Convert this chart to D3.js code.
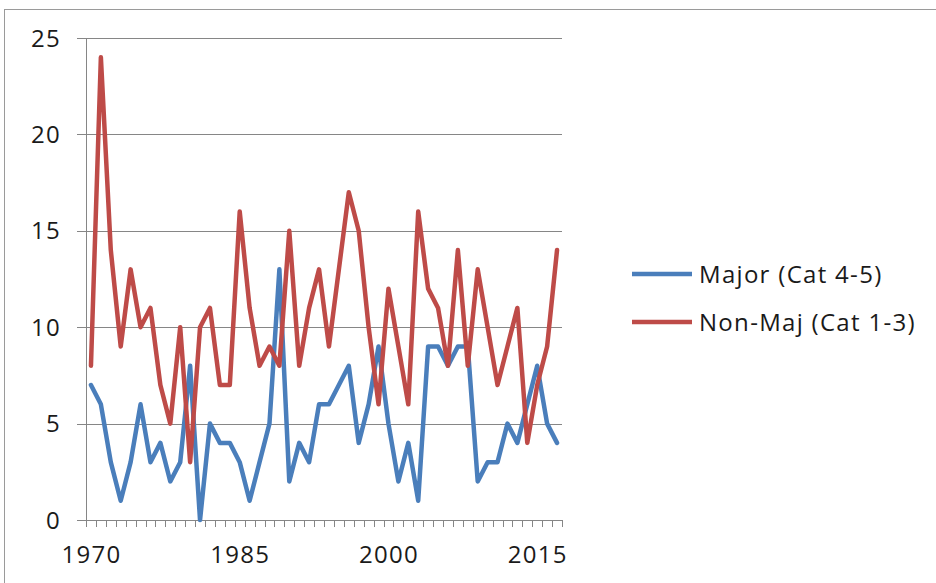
<!DOCTYPE html>
<html>
<head>
<meta charset="utf-8">
<script src="https://cdn.jsdelivr.net/npm/d3@7"></script>
<style>
  html, body { margin: 0; padding: 0; background: #ffffff; }
  svg { display: block; font-family: "Open Sans", "Noto Sans", sans-serif; }
</style>
</head>
<body>
<svg id="chart" width="936" height="583"></svg>
<script>
// Hurricane counts per year
const years = [
  1970, 1971, 1972, 1973, 1974, 1975, 1976, 1977, 1978, 1979,
  1980, 1981, 1982, 1983, 1984, 1985, 1986, 1987, 1988, 1989,
  1990, 1991, 1992, 1993, 1994, 1995, 1996, 1997, 1998, 1999,
  2000, 2001, 2002, 2003, 2004, 2005, 2006, 2007, 2008, 2009,
  2010, 2011, 2012, 2013, 2014, 2015, 2016, 2017
];
const major = [
  7, 6, 3, 1, 3, 6, 3, 4, 2, 3,
  8, 0, 5, 4, 4, 3, 1, 3, 5, 13,
  2, 4, 3, 6, 6, 7, 8, 4, 6, 9,
  5, 2, 4, 1, 9, 9, 8, 9, 9, 2,
  3, 3, 5, 4, 6, 8, 5, 4
];
const nonMajor = [
  8, 24, 14, 9, 13, 10, 11, 7, 5, 10,
  3, 10, 11, 7, 7, 16, 11, 8, 9, 8,
  15, 8, 11, 13, 9, 13, 17, 15, 10, 6,
  12, 9, 6, 16, 12, 11, 8, 14, 8, 13,
  10, 7, 9, 11, 4, 7, 9, 14
];
const yTicks = [0, 5, 10, 15, 20, 25];
const xLabelYears = [1970, 1985, 2000, 2015];

const seriesNames = ["Major (Cat 4-5)", "Non-Maj (Cat 1-3)"];
const seriesColors = ["#4a7ebb", "#be4b48"];

const svg = d3.select("#chart");
const gridColor = "#868686";
const textColor = "#1a1a1a";
const fontSize = "24px";
const letterSpacing = "1.3px";

// outer chart frame
svg.append("rect")
  .attr("x", 4.5).attr("y", 9.5)
  .attr("width", 1000).attr("height", 1000)
  .attr("fill", "none")
  .attr("stroke", "#9a9a9a")
  .attr("stroke-width", 1);

const plot = { left: 86, right: 562, top: 38, bottom: 520 };

const x = d3.scaleBand()
  .domain(years)
  .range([plot.left, plot.right])
  .paddingInner(0).paddingOuter(0);

const y = d3.scaleLinear()
  .domain([0, 25])
  .range([plot.bottom, plot.top]);

const cx = d => x(d) + x.bandwidth() / 2;

// horizontal gridlines with outside ticks
const yAxis = d3.axisLeft(y)
  .tickValues(yTicks)
  .tickSize(-(plot.right - plot.left))
  .tickSizeOuter(0)
  .tickPadding(0)
  .tickFormat(d3.format("d"));

const gy = svg.append("g")
  .attr("transform", `translate(${plot.left},0)`)
  .call(yAxis);
gy.select(".domain").remove();
gy.selectAll(".tick line")
  .attr("x1", -9)
  .attr("stroke", gridColor)
  .attr("stroke-width", 1)
  .attr("shape-rendering", "crispEdges");
gy.selectAll(".tick text")
  .attr("x", -25)
  .attr("dy", "0.34em")
  .attr("fill", textColor)
  .style("font-size", fontSize)
  .style("letter-spacing", letterSpacing)
  .style("font-family", "'Open Sans', 'Noto Sans', sans-serif");

// vertical axis line
svg.append("line")
  .attr("x1", plot.left).attr("x2", plot.left)
  .attr("y1", plot.top).attr("y2", plot.bottom)
  .attr("stroke", gridColor)
  .attr("shape-rendering", "crispEdges");

// category axis: tick marks between years, labels every 15 years
const tickEdges = years.map(d => x(d)).concat([plot.right]);
const gx = svg.append("g");
gx.append("line")
  .attr("x1", plot.left).attr("x2", plot.right)
  .attr("y1", plot.bottom).attr("y2", plot.bottom)
  .attr("stroke", gridColor)
  .attr("shape-rendering", "crispEdges");
gx.selectAll("line.tk")
  .data(tickEdges)
  .join("line")
  .attr("class", "tk")
  .attr("x1", d => Math.round(d) + 0.5).attr("x2", d => Math.round(d) + 0.5)
  .attr("y1", plot.bottom).attr("y2", plot.bottom + 7)
  .attr("stroke", gridColor);
gx.selectAll("text")
  .data(xLabelYears)
  .join("text")
  .attr("x", d => cx(d) + 0.6)
  .attr("y", 563)
  .attr("text-anchor", "middle")
  .attr("fill", textColor)
  .style("font-size", fontSize)
  .style("letter-spacing", letterSpacing)
  .text(d => d);

// series lines
const seriesData = [major, nonMajor];
const line = d3.line()
  .x((d, i) => cx(years[i]))
  .y(d => y(d));

svg.append("g")
  .selectAll("path")
  .data(seriesData)
  .join("path")
  .attr("d", d => line(d))
  .attr("fill", "none")
  .attr("stroke", (d, i) => seriesColors[i])
  .attr("stroke-width", 4.5)
  .attr("stroke-linejoin", "round")
  .attr("stroke-linecap", "round");

// legend
const legend = svg.append("g");
const legendRows = [274, 322];
seriesNames.forEach((name, i) => {
  legend.append("line")
    .attr("x1", 632).attr("x2", 692)
    .attr("y1", legendRows[i]).attr("y2", legendRows[i])
    .attr("stroke", seriesColors[i])
    .attr("stroke-width", 4.5);
  legend.append("text")
    .attr("x", 699)
    .attr("y", legendRows[i])
    .attr("dy", "0.36em")
    .attr("fill", textColor)
    .style("font-size", fontSize)
    .style("letter-spacing", letterSpacing)
    .text(name);
});
</script>
</body>
</html>
